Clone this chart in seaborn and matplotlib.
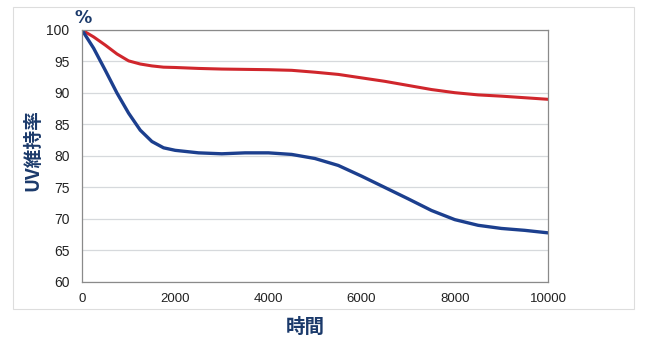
import matplotlib
matplotlib.use("Agg")
import matplotlib.pyplot as plt
import seaborn as sns
import pandas as pd
from matplotlib.patches import Rectangle

hours = [0, 250, 500, 750, 1000, 1250, 1500, 1750, 2000, 2500, 3000, 3500,
         4000, 4500, 5000, 5500, 6000, 6500, 7000, 7500, 8000, 8500, 9000,
         9500, 10000]
red_vals = [100, 98.9, 97.6, 96.2, 95.1, 94.6, 94.3, 94.1, 94.05, 93.9, 93.8,
            93.75, 93.7, 93.6, 93.3, 92.95, 92.4, 91.85, 91.2, 90.55, 90.05,
            89.7, 89.5, 89.25, 89.0]
blue_vals = [100, 97.1, 93.6, 90.0, 86.8, 84.1, 82.3, 81.3, 80.9, 80.5, 80.35,
             80.5, 80.5, 80.25, 79.6, 78.5, 76.8, 75.0, 73.2, 71.35, 69.9,
             69.0, 68.5, 68.2, 67.8]
y_ticks = [60, 65, 70, 75, 80, 85, 90, 95, 100]
x_ticks = [0, 2000, 4000, 6000, 8000, 10000]

sns.set_style("white")
plt.rcParams['font.family'] = ['Noto Sans CJK JP', 'DejaVu Sans']

df = pd.DataFrame({"hours": hours, "red": red_vals, "blue": blue_vals})

fig = plt.figure(figsize=(6.51, 3.46), dpi=100)
ax = fig.add_axes([82/651, 1-282/346, (548-82)/651, (282-30)/346])

sns.lineplot(data=df, x="hours", y="red", ax=ax, color="#d0262c", linewidth=2.2,
             solid_joinstyle="round", solid_capstyle="round")
sns.lineplot(data=df, x="hours", y="blue", ax=ax, color="#1c3f8e", linewidth=2.4,
             solid_joinstyle="round", solid_capstyle="round")

ax.set_xlim(0, 10000)
ax.set_ylim(60, 100)
ax.set_xticks(x_ticks)
ax.set_yticks(y_ticks)
ax.set_xticklabels([str(v) for v in x_ticks], fontsize=9.5, color="#222222", family="Liberation Sans")
ax.set_yticklabels([str(v) for v in y_ticks], fontsize=10, color="#222222", family="Liberation Sans")
ax.yaxis.grid(True, color="#d6d9dc", linewidth=0.9)
ax.set_axisbelow(True)
for s in ax.spines.values():
    s.set_color("#8a8a8a")
    s.set_linewidth(0.9)
ax.tick_params(axis="x", direction="in", length=3, color="#9a9a9a", pad=8)
ax.tick_params(axis="y", length=0, pad=9)
ax.set_xlabel("")
ax.set_ylabel("")

fig.text(33/651, 1-150/346, "UV維持率", rotation=90, ha="center", va="center",
         fontsize=13.5, fontweight="bold", color="#1b3a6b")
fig.text(305/651, 1-327/346, "時間", ha="center", va="center",
         fontsize=14, fontweight="bold", color="#1b3a6b")
fig.text(83/651, 1-18/346, "%", ha="center", va="center",
         fontsize=12.5, fontweight="bold", color="#1b3a6b", family="DejaVu Sans")

fig.patches.append(Rectangle((13/651, 1-309/346), (634-13)/651, (309-7)/346,
                             transform=fig.transFigure, fill=False,
                             edgecolor="#dddddd", linewidth=0.8))

fig.savefig("out.png", dpi=100)
